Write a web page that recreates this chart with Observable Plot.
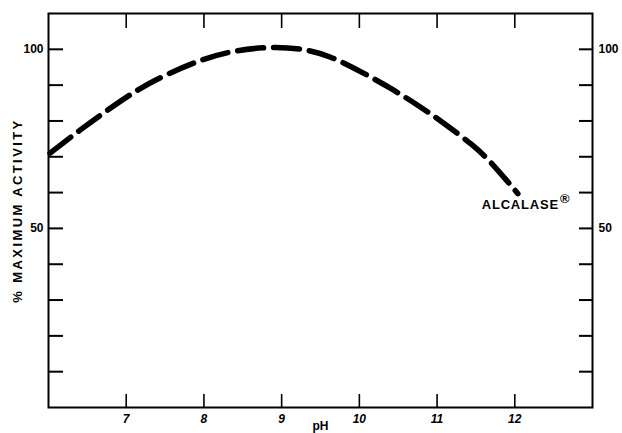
<!DOCTYPE html>
<html><head><meta charset="utf-8">
<script src="https://cdn.jsdelivr.net/npm/d3@7"></script>
<script src="https://cdn.jsdelivr.net/npm/@observablehq/plot@0.6"></script>
<style>body{margin:0;background:#fff} svg{display:block}</style>
</head><body><div id="chart"></div>
<script>
const phValues = [6.02, 6.41, 6.76, 7.14, 7.53, 8.0, 8.43, 8.86, 9.25, 9.63, 10.04, 10.41, 10.75, 11.09, 11.44, 11.70, 11.95, 12.04];
const activity = [71.0, 77.5, 83.0, 88.5, 93.0, 97.2, 99.6, 100.5, 100.0, 97.8, 93.5, 89.0, 84.4, 79.3, 73.5, 68.2, 62.0, 59.7];
const xTicks = [7, 8, 9, 10, 11, 12];
const yMinorTicks = [10, 20, 30, 40, 50, 60, 70, 80, 90, 100];
const yLabelTicks = [50, 100];
const curveLabel = "ALCALASE";
const regMark = "®";
const xTitle = "pH";
const yTitle = "% MAXIMUM ACTIVITY";

const data = phValues.map((x, i) => ({ph: x, act: activity[i]}));
const W = 622, H = 433, mL = 48, mR = 30, mT = 13, mB = 26;
const innerW = W - mL - mR, innerH = H - mT - mB;
const font = "'Liberation Sans', Arial, Helvetica, sans-serif";

const chart = Plot.plot({
  width: W, height: H,
  marginLeft: mL, marginRight: mR, marginTop: mT, marginBottom: mB,
  x: {domain: [6, 13]},
  y: {domain: [0, 110]},
  style: {fontFamily: font, background: "#fff", color: "#000", overflow: "visible"},
  marks: [
    Plot.frame({stroke: "#000", strokeWidth: 2}),
    Plot.tickY(yMinorTicks, {y: d => d, insetRight: innerW - 15, strokeWidth: 2}),
    Plot.tickY(yMinorTicks, {y: d => d, insetLeft: innerW - 13, strokeWidth: 2}),
    Plot.tickX(xTicks, {x: d => d, insetTop: innerH - 13, strokeWidth: 1.6}),
    Plot.tickX(xTicks, {x: d => d, insetBottom: innerH - 15, strokeWidth: 1.6}),
    Plot.axisY(yLabelTicks, {anchor: "left", tickSize: 0, tickPadding: 5, fontSize: 12, fontWeight: "bold", label: null}),
    Plot.axisY(yLabelTicks, {anchor: "right", tickSize: 0, tickPadding: 6, fontSize: 12, fontWeight: "bold", label: null}),
    Plot.axisX(xTicks, {anchor: "bottom", tickSize: 0, tickPadding: 7, fontSize: 12, fontWeight: "bold", fontStyle: "italic", label: null}),
    Plot.line(data, {x: "ph", y: "act", curve: "natural", stroke: "#000", strokeWidth: 5.5, strokeDasharray: "26,10"}),
    Plot.text(data, Plot.selectLast({x: "ph", y: "act", text: () => curveLabel, textAnchor: "end", dx: 41, dy: 11, fontSize: 13, fontWeight: "bold"})),
    Plot.text(data, Plot.selectLast({x: "ph", y: "act", text: () => regMark, textAnchor: "start", dx: 42, dy: 5, fontSize: 13, fontWeight: "bold"})),
    Plot.text([xTitle], {frameAnchor: "bottom", dy: 22, fontSize: 12, fontWeight: "bold"}),
    Plot.text([yTitle], {frameAnchor: "left", textAnchor: "middle", rotate: -90, dx: -31, fontSize: 13, fontWeight: "bold"})
  ]
});
d3.select(chart).selectAll("text").filter(function() { return this.textContent === yTitle; }).attr("letter-spacing", 2.4);
d3.select(chart).selectAll("text").filter(function() { return this.textContent === curveLabel; }).attr("letter-spacing", 0.8);
document.getElementById("chart").append(chart);
</script>
</body></html>
